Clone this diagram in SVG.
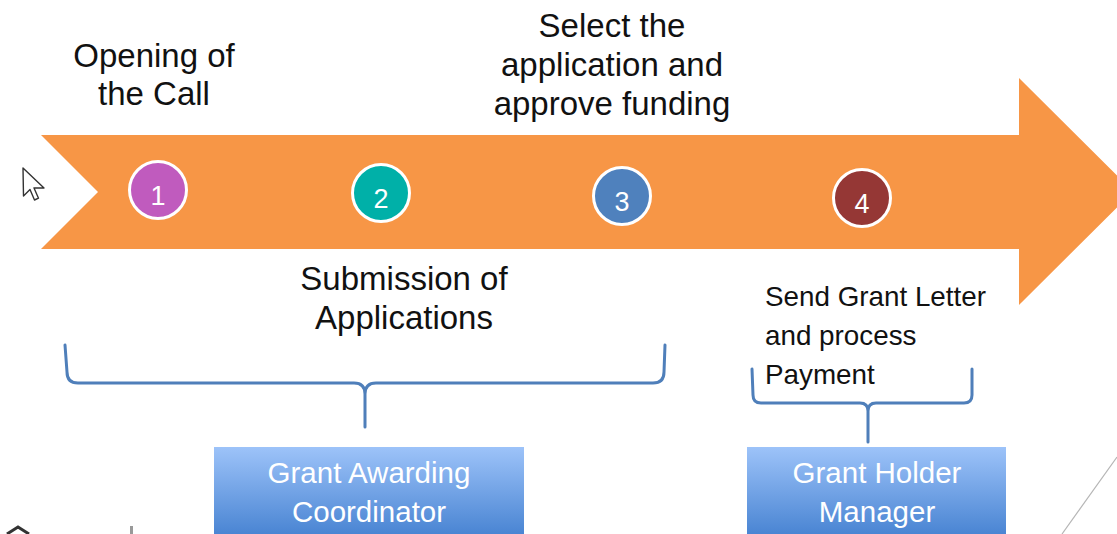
<svg xmlns="http://www.w3.org/2000/svg" width="1117" height="534" viewBox="0 0 1117 534">
<defs>
<linearGradient id="boxGrad" x1="0" y1="0" x2="0" y2="1">
<stop offset="0" stop-color="#9DC3F9"/>
<stop offset="1" stop-color="#4A85D3"/>
</linearGradient>
<style>
.lbl{font-family:"Liberation Sans",Arial,sans-serif;font-size:33px;fill:#111;}
.lbl-s{font-family:"Liberation Sans",Arial,sans-serif;font-size:27.8px;fill:#111;}
.box{fill:url(#boxGrad);}
.boxtxt{font-family:"Liberation Sans",Arial,sans-serif;font-size:29.5px;fill:#fff;text-anchor:middle;}
.step{stroke:#fff;stroke-width:3;}
.num{font-family:"Liberation Sans",Arial,sans-serif;font-size:27px;fill:#fff;text-anchor:middle;}
.brace{fill:none;stroke:#4F7FBA;stroke-width:3;stroke-linejoin:round;stroke-linecap:round;}
</style>
</defs>
<rect width="1117" height="534" fill="#fff"/>

<g id="timeline-arrow">
<polygon points="41,135 1019,135 1019,78 1133,191.5 1019,305 1019,249 41,249 98,192" fill="#F79646"/>
</g>

<g id="cursor">
<path d="M23,168 L23.5,196 L30,189.5 L34.5,200 L38.5,198.2 L34,188 L44,188 Z" fill="#fff" stroke="#333" stroke-width="1.4" stroke-linejoin="round"/>
</g>

<g id="step1">
<circle class="step" cx="158" cy="190" r="28.5" fill="#C05BBE"/>
<text class="num" x="158" y="205">1</text>
</g>
<g id="step2">
<circle class="step" cx="381" cy="193" r="28.5" fill="#00B0A8"/>
<text class="num" x="381" y="208">2</text>
</g>
<g id="step3">
<circle class="step" cx="622" cy="196" r="28.5" fill="#4F81BD"/>
<text class="num" x="622" y="211">3</text>
</g>
<g id="step4">
<circle class="step" cx="862" cy="198" r="28.5" fill="#953735"/>
<text class="num" x="862" y="213">4</text>
</g>

<g id="label-opening">
<text class="lbl" text-anchor="middle"><tspan x="154" y="67">Opening of</tspan><tspan x="154" y="105">the Call</tspan></text>
</g>
<g id="label-select">
<text class="lbl" text-anchor="middle"><tspan x="612" y="37">Select the</tspan><tspan x="612" y="76">application and</tspan><tspan x="612" y="115">approve funding</tspan></text>
</g>
<g id="label-submission">
<text class="lbl" text-anchor="middle"><tspan x="404" y="290">Submission of</tspan><tspan x="404" y="329">Applications</tspan></text>
</g>
<g id="label-send">
<text class="lbl-s"><tspan x="765" y="306">Send Grant Letter</tspan><tspan x="765" y="345">and process</tspan><tspan x="765" y="384">Payment</tspan></text>
</g>

<g id="connectors">
<path class="brace" d="M65,345 L67,372 Q67,383 78,383 L354,383 Q365,383 365,394 L365,427 M365,394 Q365,383 376,383 L653,383 Q664,383 664,372 L665,345"/>
<path class="brace" d="M752,369 L753,395 Q753,403 761,403 L860,403 Q868,403 868,411 L868,442 M868,411 Q868,403 876,403 L964,403 Q972,403 972,395 L972,369"/>
</g>

<g id="box-coordinator">
<rect class="box" x="214" y="447" width="310" height="87"/>
<text class="boxtxt"><tspan x="369" y="483">Grant Awarding</tspan><tspan x="369" y="522">Coordinator</tspan></text>
</g>
<g id="box-manager">
<rect class="box" x="747" y="447" width="259" height="87"/>
<text class="boxtxt"><tspan x="877" y="483">Grant Holder</tspan><tspan x="877" y="522">Manager</tspan></text>
</g>

<g id="edge-artifacts">
<line x1="1117" y1="457" x2="1062" y2="534" stroke="#B5B5B5" stroke-width="1.2"/>
<path d="M7,534 L18,527 L29,534" fill="none" stroke="#333" stroke-width="3"/>
<rect x="130" y="526" width="3" height="8" fill="#999"/>
</g>
</svg>
